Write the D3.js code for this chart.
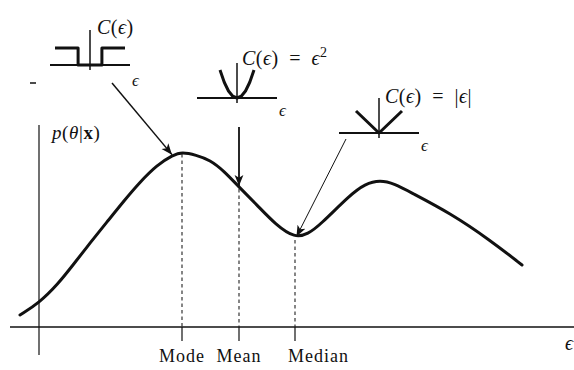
<!DOCTYPE html>
<html>
<head>
<meta charset="utf-8">
<script src="https://cdn.jsdelivr.net/npm/d3@7"></script>
<style>
  body { margin: 0; background: #fff; }
  text { font-family: "Liberation Serif", "DejaVu Serif", serif; fill: #111; }
</style>
</head>
<body>
<div id="chart"></div>
<script>
// posterior density p(theta|x)
const theta   = [-3.8, 0, 3.8, 6.8, 10.2, 13.6, 16.8, 20.2, 23.6, 26.8, 28.6, 31.4, 34.2, 37, 40, 43.6, 47.4, 51.2, 53.8, 56.2, 62.2, 65.2, 68.2, 71.2, 74.2, 82.2, 90.2, 96.6];
const density = [0.06, 0.12, 0.215, 0.31, 0.42, 0.525, 0.625, 0.725, 0.81, 0.86, 0.875, 0.86, 0.835, 0.78, 0.70, 0.61, 0.51, 0.445, 0.465, 0.51, 0.66, 0.715, 0.735, 0.715, 0.675, 0.57, 0.435, 0.31];

// estimators marked on the axis
const estNames = ["Mode", "Mean", "Median"];
const estTheta = [28.6, 40, 51.2];

// cost functions for the three insets
const stepEps = [-1, -0.34, -0.34, 0.34, 0.34, 1];
const stepC   = [1, 1, 0, 0, 1, 1];
const quadEps = [-1, -0.75, -0.5, -0.25, 0, 0.25, 0.5, 0.75, 1];
const quadC   = [1, 0.5625, 0.25, 0.0625, 0, 0.0625, 0.25, 0.5625, 1];
const absEps  = [-1, 0, 1];
const absC    = [1, 0, 1];

const width = 574, height = 370;

const x = d3.scaleLinear().domain([0, 100]).range([39, 539]);
const y = d3.scaleLinear().domain([0, 1]).range([327, 127]);

const svg = d3.select("#chart").append("svg")
    .attr("width", width)
    .attr("height", height);

svg.append("defs").append("marker")
    .attr("id", "head")
    .attr("viewBox", "0 0 10 10")
    .attr("refX", 10).attr("refY", 5)
    .attr("markerWidth", 11).attr("markerHeight", 11)
    .attr("markerUnits", "userSpaceOnUse")
    .attr("orient", "auto")
  .append("path")
    .attr("d", "M0,1 L10,5 L0,9 L2.5,5 Z")
    .attr("fill", "#111");

// axes
svg.append("line")
    .attr("x1", 10).attr("x2", width)
    .attr("y1", y(0)).attr("y2", y(0))
    .attr("stroke", "#111").attr("stroke-width", 1.3);
svg.append("line")
    .attr("x1", x(0)).attr("x2", x(0))
    .attr("y1", 125).attr("y2", 355)
    .attr("stroke", "#111").attr("stroke-width", 1.2);

svg.append("text")
    .attr("x", 565).attr("y", 350)
    .style("font-size", "20px").style("font-style", "italic")
    .text("ϵ");

// y label p(theta|x)
const pl = svg.append("text").attr("x", 52).attr("y", 139)
    .style("font-size", "19px").style("letter-spacing", "0.6px");
pl.append("tspan").style("font-style", "italic").text("p");
pl.append("tspan").text("(");
pl.append("tspan").style("font-style", "italic").text("θ");
pl.append("tspan").text("|");
pl.append("tspan").style("font-weight", "bold").text("x");
pl.append("tspan").text(")");

// density curve
const pts = theta.map((t, i) => [t, density[i]]);
const line = d3.line().x(d => x(d[0])).y(d => y(d[1])).curve(d3.curveBasis);
svg.append("path")
    .datum(pts)
    .attr("d", line)
    .attr("fill", "none")
    .attr("stroke", "#111")
    .attr("stroke-width", 3)
    .attr("stroke-linecap", "round");

const densityAt = t => d3.scaleLinear().domain(theta).range(density)(t);

// dashed drop lines, ticks and labels
estTheta.forEach((t, i) => {
    svg.append("line")
        .attr("x1", x(t)).attr("x2", x(t))
        .attr("y1", y(densityAt(t)) + 2).attr("y2", y(0))
        .attr("stroke", "#222").attr("stroke-width", 1.1)
        .attr("stroke-dasharray", "3.5,3");
    svg.append("line")
        .attr("x1", x(t)).attr("x2", x(t))
        .attr("y1", y(0)).attr("y2", y(0) + 14)
        .attr("stroke", "#111").attr("stroke-width", 1.2);
    svg.append("text")
        .attr("x", i === 2 ? x(t) - 7 : x(t))
        .attr("y", 362)
        .attr("text-anchor", i === 2 ? "start" : "middle")
        .style("font-size", "18px")
        .style("letter-spacing", "1px")
        .text(estNames[i]);
});

// inset cost functions
function inset(cx, cy, eps, c, w, h, axTop, half) {
    const ex = d3.scaleLinear().domain([-1, 1]).range([cx - w, cx + w]);
    const cyS = d3.scaleLinear().domain([0, 1]).range([cy, cy - h]);
    const g = svg.append("g");
    g.append("line")
        .attr("x1", cx - half).attr("x2", cx + half)
        .attr("y1", cy).attr("y2", cy)
        .attr("stroke", "#111").attr("stroke-width", 2);
    g.append("line")
        .attr("x1", cx).attr("x2", cx)
        .attr("y1", axTop).attr("y2", cy + 5)
        .attr("stroke", "#111").attr("stroke-width", 1.5);
    g.append("path")
        .datum(eps.map((e, i) => [e, c[i]]))
        .attr("d", d3.line().x(d => ex(d[0])).y(d => cyS(d[1])))
        .attr("fill", "none")
        .attr("stroke", "#111")
        .attr("stroke-width", 3)
        .attr("stroke-linejoin", "round");
    return g;
}

function costLabel(g, lx, ly, rhs) {
    const t = g.append("text").attr("x", lx).attr("y", ly)
        .style("font-size", "20px").style("letter-spacing", "0.5px");
    t.append("tspan").style("font-style", "italic").text("C");
    t.append("tspan").text("(");
    t.append("tspan").style("font-style", "italic").text("ϵ");
    t.append("tspan").text(")");
    if (rhs) rhs(t);
}

const g1 = inset(90, 65, stepEps, stepC, 35, 17, 30, 40);
costLabel(g1, 97, 34);
g1.append("text").attr("x", 132).attr("y", 86).style("font-size", "17px").style("font-style", "italic").text("ϵ");
g1.append("line").attr("x1", 30).attr("x2", 36).attr("y1", 83).attr("y2", 83)
    .attr("stroke", "#111").attr("stroke-width", 1.5);

const g2 = inset(237, 98, quadEps, quadC, 17, 28, 63, 40);
costLabel(g2, 242, 65, t => {
    t.append("tspan").text("\u2002=\u2002");
    t.append("tspan").style("font-style", "italic").text("ϵ");
    t.append("tspan").attr("dy", -8).style("font-size", "14px").text("2");
});
g2.append("text").attr("x", 279).attr("y", 116).style("font-size", "17px").style("font-style", "italic").text("ϵ");

const g3 = inset(379, 133, absEps, absC, 23, 22, 98, 40);
costLabel(g3, 385, 103, t => {
    t.append("tspan").text("\u2002=\u2002|");
    t.append("tspan").style("font-style", "italic").text("ϵ");
    t.append("tspan").text("|");
});
g3.append("text").attr("x", 421).attr("y", 151).style("font-size", "17px").style("font-style", "italic").text("ϵ");

// arrows from each cost function to its estimate on the curve
const arrows = [
    { from: [112, 83], t: 26.6, w: 1.5 },
    { from: [x(estTheta[1]), 127], t: estTheta[1], w: 1.8 },
    { from: [346, 139], t: estTheta[2] + 0.3, w: 1 }
];
arrows.forEach(a => {
    svg.append("line")
        .attr("x1", a.from[0]).attr("y1", a.from[1])
        .attr("x2", x(a.t)).attr("y2", y(densityAt(a.t)) - 1)
        .attr("stroke", "#111")
        .attr("stroke-width", a.w)
        .attr("marker-end", "url(#head)");
});
</script>
</body>
</html>
